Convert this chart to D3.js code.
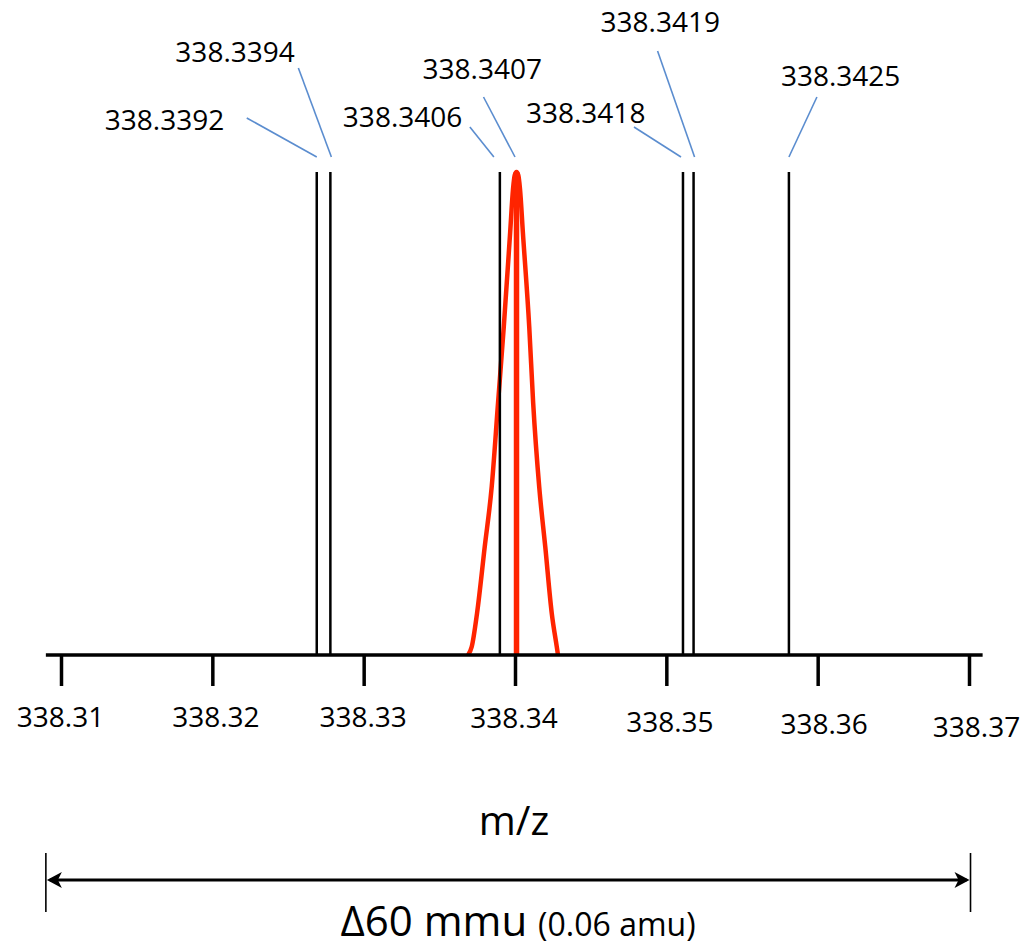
<!DOCTYPE html>
<html>
<head>
<meta charset="utf-8">
<script src="https://cdn.jsdelivr.net/npm/d3@7"></script>
<style>
  body { margin: 0; background: #fff; }
  svg { display: block; font-family: 'Open Sans', sans-serif; }
</style>
</head>
<body>
<svg id="chart" width="1022" height="949"></svg>
<script>
// Axis ticks (m/z)
const tickValues = [338.31, 338.32, 338.33, 338.34, 338.35, 338.36, 338.37];

// Candidate peaks: label text and where each is drawn on the schematic axis
const peakLabels = ['338.3392', '338.3394', '338.3406', '338.3407', '338.3418', '338.3419', '338.3425'];
const peakPositions = [338.3269, 338.3278, 338.3390, 338.3401, 338.3511, 338.3518, 338.3581];
const peakIntensity = [100, 100, 100, 100, 100, 100, 100];
const matchedPeak = '338.3407';

const profileMz = [
  338.33690, 338.33714, 338.33749, 338.33800, 338.33846, 338.33888, 338.33926, 338.33968,
  338.33987, 338.33998, 338.34010, 338.34022, 338.34033, 338.34052,
  338.34094, 338.34120, 338.34160, 338.34200, 338.34243, 338.34276, 338.34284
];
const profileIntensity = [
  0, 1.7, 8.6, 22.4, 34.8, 52.2, 68.0, 87.5,
  96.5, 99.3, 100, 99.3, 96.5, 87.5,
  68.0, 52.2, 34.8, 22.4, 8.6, 1.7, 0
];

const axisTitle = 'm/z';
const spanMain = 'Δ60 mmu';
const spanSub = '(0.06 amu)';
const spanFrom = 338.309;
const spanTo = 338.3701;

// ---- layout ----
const baseY = 655;
const topY = 172;
const red = '#ff2400';
const blue = '#5b8dcf';

// label placement relative to each peak line (text left, baseline, leader start, leader end)
const labelLayout = [
  { tx: -212, ty: 130, lx: -70, ly: 118, ex: 0 },
  { tx: -155, ty: 62, lx: -32, ly: 68, ex: 1 },
  { tx: -157, ty: 127, lx: -30, ly: 127, ex: -6 },
  { tx: -94, ty: 79, lx: -33, ly: 97, ex: -1.5 },
  { tx: -157, ty: 123, lx: -49, ly: 127, ex: -2 },
  { tx: -93, ty: 32, lx: -36, ly: 51, ex: 1 },
  { tx: -8, ty: 86, lx: 28, ly: 97, ex: 0 }
];
// tick labels sit slightly off in the original
const tickNudge = [[-1, 0], [3, 0], [-1, 0], [-1.5, 1], [3, 5], [6, 7], [7, 10]];

const svg = d3.select('#chart');

const x = d3.scaleLinear()
  .domain([338.31, 338.37])
  .range([61, 969]);

const y = d3.scaleLinear()
  .domain([0, 100])
  .range([baseY, topY]);

// red profile
const profile = profileMz.map((m, i) => [m, profileIntensity[i]]);
const line = d3.line()
  .x((d) => x(d[0]))
  .y((d) => y(d[1]))
  .curve(d3.curveMonotoneX);

svg.append('path')
  .datum(profile)
  .attr('d', line)
  .attr('fill', 'none')
  .attr('stroke', red)
  .attr('stroke-width', 4.5)
  .attr('stroke-linejoin', 'round');

const peaks = peakLabels.map((label, i) => ({
  label,
  mz: peakPositions[i],
  intensity: peakIntensity[i],
  layout: labelLayout[i]
}));

// stick peaks
svg.selectAll('line.peak')
  .data(peaks)
  .join('line')
  .attr('class', 'peak')
  .attr('x1', (d) => x(d.mz))
  .attr('x2', (d) => x(d.mz))
  .attr('y1', y(0))
  .attr('y2', (d) => y(d.intensity))
  .attr('stroke', (d) => (d.label === matchedPeak ? red : '#000'))
  .attr('stroke-width', (d) => (d.label === matchedPeak ? 5.5 : 2.5));

// leaders + labels
svg.selectAll('line.leader')
  .data(peaks)
  .join('line')
  .attr('class', 'leader')
  .attr('x1', (d) => x(d.mz) + d.layout.lx)
  .attr('y1', (d) => d.layout.ly)
  .attr('x2', (d) => x(d.mz) + d.layout.ex)
  .attr('y2', 157)
  .attr('stroke', blue)
  .attr('stroke-width', 1.6);

svg.selectAll('text.peak-label')
  .data(peaks)
  .join('text')
  .attr('class', 'peak-label')
  .attr('x', (d) => x(d.mz) + d.layout.tx)
  .attr('y', (d) => d.layout.ty)
  .attr('font-size', 28)
  .attr('fill', '#000')
  .text((d) => d.label);

// x axis
const gx = svg.append('g')
  .attr('transform', `translate(0,${baseY})`)
  .call(d3.axisBottom(x)
    .tickValues(tickValues)
    .tickSize(31)
    .tickSizeOuter(0)
    .tickFormat(d3.format('.2f')));

gx.select('.domain').remove();
gx.selectAll('.tick line')
  .attr('stroke', '#000')
  .attr('stroke-width', 3.5);
gx.selectAll('.tick text')
  .attr('font-family', "'Open Sans', sans-serif")
  .attr('font-size', 28)
  .attr('fill', '#000')
  .attr('dy', null)
  .attr('x', (d, i) => tickNudge[i][0])
  .attr('y', (d, i) => 72 + tickNudge[i][1]);

gx.append('line')
  .attr('x1', x(338.309))
  .attr('x2', x(338.3709))
  .attr('stroke', '#000')
  .attr('stroke-width', 3.5);

svg.append('text')
  .attr('x', 514)
  .attr('y', 835)
  .attr('text-anchor', 'middle')
  .attr('font-size', 40)
  .text(axisTitle);

// span marker
const sx0 = x(spanFrom);
const sx1 = x(spanTo);
const ay = 880;

svg.append('line')
  .attr('x1', sx0 + 4).attr('x2', sx1 - 4)
  .attr('y1', ay).attr('y2', ay)
  .attr('stroke', '#000')
  .attr('stroke-width', 2.8);

[sx0, sx1].forEach((sx) => {
  svg.append('line')
    .attr('x1', sx).attr('x2', sx)
    .attr('y1', 853).attr('y2', 912)
    .attr('stroke', '#000')
    .attr('stroke-width', 1.6);
});

const head = (tip, dir) =>
  `M${tip},${ay} L${tip + dir * 15},${ay - 8} L${tip + dir * 11},${ay} L${tip + dir * 15},${ay + 8} Z`;

svg.append('path').attr('d', head(sx0 + 1, 1)).attr('fill', '#000');
svg.append('path').attr('d', head(sx1 - 1, -1)).attr('fill', '#000');

const spanText = svg.append('text')
  .attr('x', 518)
  .attr('y', 936)
  .attr('text-anchor', 'middle');
spanText.append('tspan').attr('font-size', 42).text(spanMain + ' ');
spanText.append('tspan').attr('font-size', 32).text(spanSub);
</script>
</body>
</html>
